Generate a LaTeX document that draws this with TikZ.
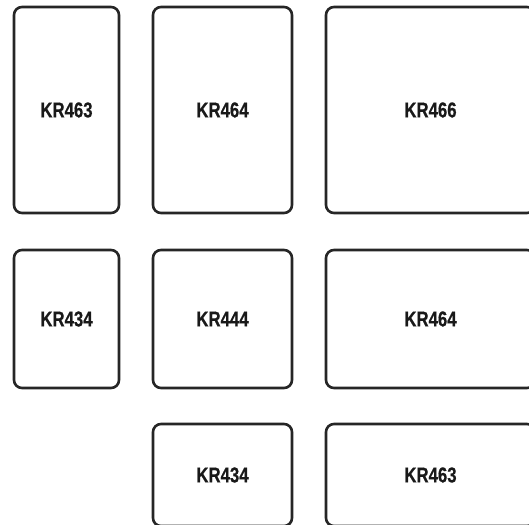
\documentclass[tikz,border=0pt]{standalone}
\usepackage{fontspec}
\newfontfamily\keyfont{Liberation Sans Bold}[FakeStretch=0.78, FakeBold=0.6]
\usetikzlibrary{positioning}

\begin{document}
\begin{tikzpicture}[
    x=1pt, y=-1pt,
    keybox/.style={rectangle, draw=black!85, line width=2.6pt, rounded corners=8pt, inner sep=0pt, font=\keyfont\fontsize{21.5}{21.5}\selectfont, text=black!90},
    narrow/.style={minimum width=105pt},
    middle/.style={minimum width=139pt},
    wide/.style={minimum width=209pt}
]
    \useasboundingbox (0,0) rectangle (529,524);

    % Row 1
    \node[keybox, narrow, minimum height=206pt] (a1) at (66.5,110) {KR463};
    \node[keybox, middle, minimum height=206pt] (b1) at (222.5,110) {KR464};
    \node[keybox, wide, minimum height=206pt] (c1) at (430.5,110) {KR466};

    % Row 2
    \node[keybox, narrow, minimum height=138pt] (a2) at (66.5,319) {KR434};
    \node[keybox, middle, minimum height=138pt] (b2) at (222.5,319) {KR444};
    \node[keybox, wide, minimum height=138pt] (c2) at (430.5,319) {KR464};

    % Row 3
    \node[keybox, middle, minimum height=102pt] (b3) at (222.5,475) {KR434};
    \node[keybox, wide, minimum height=102pt] (c3) at (430.5,475) {KR463};
\end{tikzpicture}
\end{document}
